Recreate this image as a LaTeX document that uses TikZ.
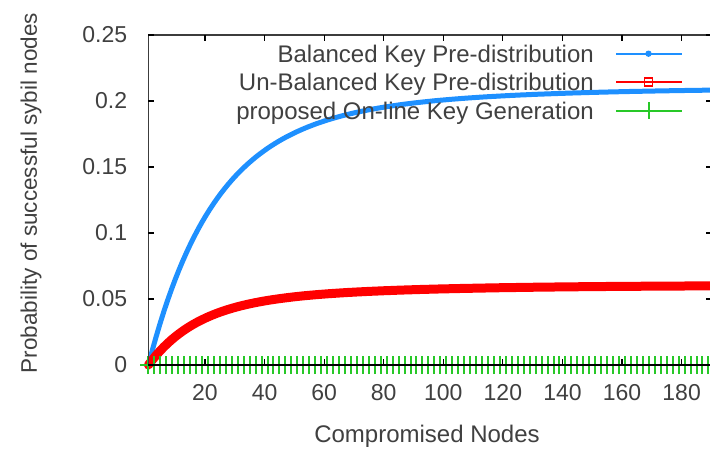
\documentclass[tikz,border=0pt]{standalone}
\usepackage{fontspec}
\setmainfont{Liberation Sans}
\definecolor{balblue}{RGB}{30,144,255}
\definecolor{unbalred}{RGB}{255,0,0}
\definecolor{onlinegreen}{RGB}{40,200,40}
\definecolor{labelgray}{RGB}{64,64,64}
\definecolor{framegray}{RGB}{60,60,60}
\tikzset{
  lbl/.style={text=labelgray, inner sep=0pt, font=\fontsize{23}{27}\selectfont},
  biglbl/.style={text=labelgray, inner sep=0pt, font=\fontsize{24}{28}\selectfont},
  frameline/.style={draw=framegray, line width=1.2pt},
  tickmark/.style={draw=black, line width=1.2pt},
  balcurve/.style={draw=balblue, line width=5pt, line join=round, line cap=round},
  unbalcurve/.style={draw=unbalred, line width=9pt, line join=round, line cap=round},
  onlinecurve/.style={draw=onlinegreen, line width=2pt},
}
\begin{document}
\begin{tikzpicture}[x=1pt,y=-1pt]
\useasboundingbox (0,0) rectangle (710,450);
\fill[white] (0,0) rectangle (710,450);
\clip (0,0) rectangle (710,450);

% data frame: x in nodes, y in probability
\begin{scope}[shift={(145.4,365)}, x=2.979pt, y=1320pt]
  % Balanced key pre-distribution
  \draw[balcurve] plot[domain=1:192, samples=150]
    (\x, {0.17*(1-exp(-(\x-1)/21))+0.04*(1-exp(-(\x-1)/60))});
  % Un-balanced key pre-distribution
  \draw[unbalcurve] plot[domain=1:192, samples=150]
    (\x, {0.044*(1-exp(-(\x-1)/16))+0.0165*(1-exp(-(\x-1)/55))});
  % proposed on-line key generation (always zero)
  \draw[onlinecurve] (1,0) ++(-8pt,0pt) -- (192,0);
  \foreach \i in {1,3,...,191}
    \draw[onlinecurve] (\i,0) ++(0pt,-9pt) -- ++(0pt,18pt);

  % frame
  \draw[frameline] (1,0) -- (1,0.25) -- (200,0.25);
  \draw[draw=black, line width=1.5pt] (1,0) -- (200,0);

  % x ticks and labels
  \foreach \v in {20,40,...,180} {
    \draw[tickmark] (\v,0) -- ++(0pt,6pt);
    \draw[tickmark] (\v,0.25) -- ++(0pt,-6pt);
    \node[lbl, anchor=base] (xt\v) at ([yshift=-35pt]\v,0) {\v};
  }
  % y ticks and labels
  \foreach \v/\t [count=\k] in {0/0, 0.05/0.05, 0.1/0.1, 0.15/0.15, 0.2/0.2, 0.25/0.25} {
    \draw[tickmark] (1,\v) -- ++(6pt,0pt);
    \draw[tickmark] (190.3,\v) -- ++(-6pt,0pt);
    \node[lbl, anchor=east] (yt\k) at ([xshift=-21pt]1,\v) {\t};
  }
\end{scope}

% axis titles
\node[biglbl, anchor=base] (xtitle) at (427,442.5) {Compromised Nodes};
\node[lbl, rotate=90, font=\fontsize{22.5}{26}\selectfont] (ytitle) at (31,193) {Probability of successful sybil nodes};

% key
\node[biglbl, anchor=base east] (keyA) at (594,62.5) {Balanced Key Pre-distribution};
\node[biglbl, anchor=base east] (keyB) at (594,90.5) {Un-Balanced Key Pre-distribution};
\node[biglbl, anchor=base east] (keyC) at (594,119) {proposed On-line Key Generation};

\coordinate (sA1) at (616,53.7); \coordinate (sA2) at (682,53.7); \coordinate (mA) at (648.5,53.7);
\coordinate (sB1) at (616,82);   \coordinate (sB2) at (682,82);   \coordinate (mB) at (648.5,82);
\coordinate (sC1) at (616,110.7);\coordinate (sC2) at (682,110.7);\coordinate (mC) at (648.5,110.7);

\draw[balblue, line width=2pt] (sA1) -- (sA2);
\fill[balblue] (mA) circle (3.2pt);
\draw[unbalred, line width=2pt] (sB1) -- (sB2);
\draw[unbalred, line width=1.5pt] ([shift={(-3.8pt,-3.8pt)}]mB) rectangle ([shift={(3.8pt,3.8pt)}]mB);
\draw[onlinegreen, line width=2pt] (sC1) -- (sC2);
\draw[onlinegreen, line width=2pt] ([yshift=8.3pt]mC) -- ([yshift=-8.3pt]mC);
\end{tikzpicture}
\end{document}
